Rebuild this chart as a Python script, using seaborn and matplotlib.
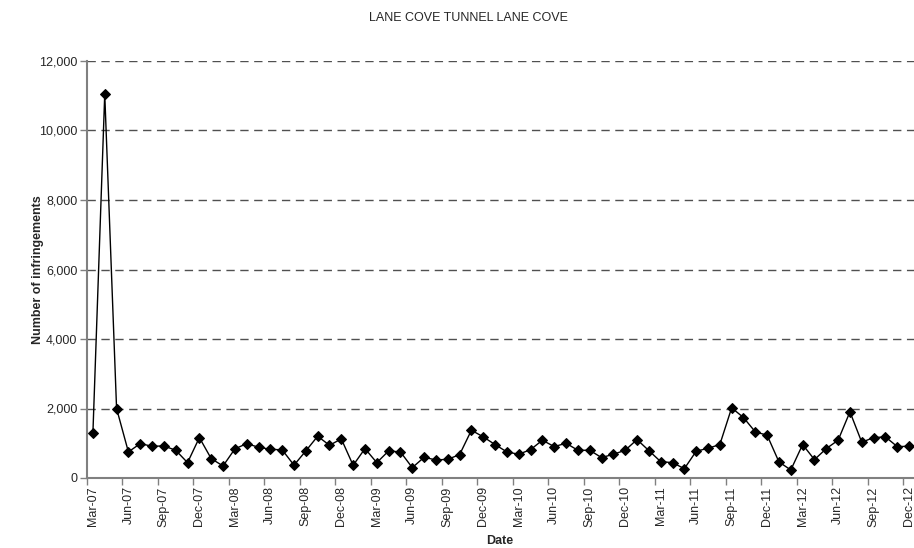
import matplotlib
matplotlib.use("Agg")
import matplotlib.pyplot as plt
import seaborn as sns
import pandas as pd
import numpy as np

# Monthly infringement counts, Mar-07 .. Dec-12
month_names = ["Jan", "Feb", "Mar", "Apr", "May", "Jun",
               "Jul", "Aug", "Sep", "Oct", "Nov", "Dec"]
months = [f"{m}-{y:02d}" for y in range(7, 13) for m in month_names][2:]

infringements = [
    1300, 11050, 2000, 750, 990, 913, 923, 798, 442, 1163,
    558, 346, 837, 990, 885, 827, 810, 370, 779, 1202,
    942, 1125, 365, 846, 442, 779, 750, 298, 596, 519,
    538, 673, 1375, 1183, 962, 750, 683, 817, 1087, 904,
    1000, 798, 798, 587, 683, 798, 1106, 788, 471, 442,
    269, 769, 856, 962, 2019, 1740, 1327, 1231, 462, 231,
    962, 529, 846, 1087, 1904, 1029, 1163, 1183, 904, 913,
]

title = "LANE COVE TUNNEL LANE COVE"
x_label = "Date"
y_label = "Number of infringements"
y_ticks = [0, 2000, 4000, 6000, 8000, 10000, 12000]

df = pd.DataFrame({"pos": np.arange(len(months)), "month": months,
                   "value": infringements})

sns.set_theme(style="white")
plt.rcParams["font.family"] = ["Liberation Sans", "DejaVu Sans"]

fig = plt.figure(figsize=(9.14, 5.48), dpi=100)
ax = fig.add_axes([87 / 914, 1 - 478 / 548, 828 / 914, 417 / 548])

sns.lineplot(data=df, x="pos", y="value", ax=ax, color="black",
             marker="D", markersize=5, markeredgecolor="black",
             linewidth=1.0, zorder=3)

ax.set_xlim(-0.5, len(months) - 0.5)
ax.set_ylim(0, 12000)

# horizontal dashed gridlines
for yv in y_ticks[1:]:
    ax.axhline(yv, color="#505050", linestyle=(0, (6, 4)), linewidth=1.0,
               zorder=1)

fs = 9
ax.set_yticks(y_ticks)
ax.set_yticklabels([f"{v:,}" for v in y_ticks], fontsize=fs)

label_pos = list(range(0, len(months), 3))
ax.set_xticks(label_pos)
ax.set_xticklabels([months[i] for i in label_pos], rotation=90, fontsize=fs)
ax.set_xticks(np.arange(-0.5, len(months), 3), minor=True)
ax.tick_params(axis="x", which="major", length=0, pad=6)
ax.tick_params(axis="x", which="minor", length=5, width=1, color="#808080",
               direction="out", bottom=True)
ax.tick_params(axis="y", length=5, width=1, color="#808080",
               direction="out", left=True, pad=2)

for side in ["top", "right"]:
    ax.spines[side].set_visible(False)
for side in ["left", "bottom"]:
    ax.spines[side].set_color("#808080")
    ax.spines[side].set_linewidth(1.5)

ax.set_xlabel("")
ax.set_ylabel("")
fig.text(38 / 914, 1 - 270 / 548, y_label, rotation=90, ha="center",
         va="center", fontsize=fs, fontweight="bold")
fig.text(500 / 914, 1 - 541 / 548, x_label, ha="center", va="center",
         fontsize=fs, fontweight="bold")
fig.text(468 / 914, 1 - 18 / 548, title, ha="center", va="center",
         fontsize=fs)

fig.savefig("out.png", dpi=100)
